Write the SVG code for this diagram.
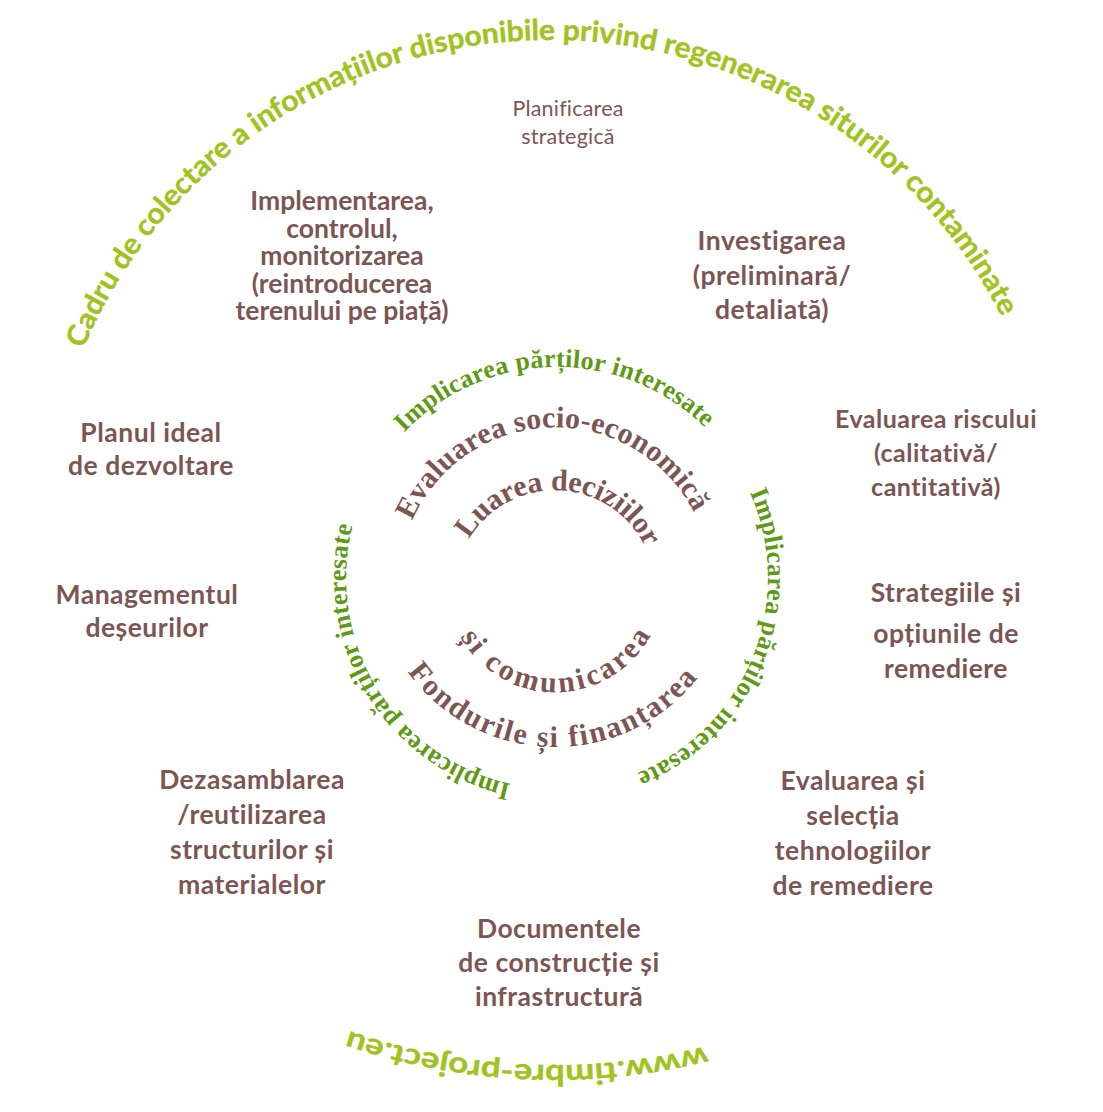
<svg xmlns="http://www.w3.org/2000/svg" xmlns:xlink="http://www.w3.org/1999/xlink" width="1103" height="1112" viewBox="0 0 1103 1112">
<style>
.lbl{font-family:Lato,"Liberation Sans",sans-serif;font-weight:700;font-size:26.5px;letter-spacing:0.5px;fill:#7d5552;text-anchor:middle}
.tight{letter-spacing:0}
.risk{font-size:25px}
.plan{font-weight:400;font-size:21.5px;letter-spacing:0.2px}
.ser{font-family:"Liberation Serif","Times New Roman",serif;font-weight:700;font-size:30px;fill:#7d5552;text-anchor:middle}
.gser{font-family:"Liberation Serif","Times New Roman",serif;font-weight:700;font-size:26px;fill:#5f9a14;text-anchor:middle}
.outer{font-family:Lato,"Liberation Sans",sans-serif;font-weight:700;font-size:29px;fill:#a0c31d;stroke:#a0c31d;stroke-width:0.4px;text-anchor:middle}
</style>
<defs>
<path id="pOuter" d="M 47.9 476.4 A 507 507 0 0 1 1045.9 441.6" fill="none"/>
<path id="pUrl" d="M 845.3 993.7 A 631 631 0 0 1 215.0 966.2" fill="none"/>
<path id="pGTop" d="M 357.6 509.0 A 211 211 0 0 1 754.1 502.7" fill="none"/>
<path id="pGRight" d="M 697.9 421.0 A 211 211 0 0 1 550.0 788.9" fill="none"/>
<path id="pGLeft" d="M 599.1 784.8 A 211 211 0 0 1 391.9 446.7" fill="none"/>
<path id="pEval" d="M 399.3 574.0 A 156 156 0 0 1 709.9 564.8" fill="none"/>
<path id="pLuarea" d="M 455.9 576.8 A 100 100 0 0 1 654.9 585.8" fill="none"/>
<path id="pComun" d="M 446.5 593.4 A 109 109 0 0 0 663.7 591.6" fill="none"/>
<path id="pFond" d="M 375.1 592.7 A 182 182 0 0 0 733.5 600.5" fill="none"/>
</defs>
<rect width="1103" height="1112" fill="#ffffff"/>

<g id="outer-ring">
<text class="outer"><textPath href="#pOuter" xlink:href="#pOuter" startOffset="50%" textLength="1150" lengthAdjust="spacingAndGlyphs">Cadru de colectare a informațiilor disponibile privind regenerarea siturilor contaminate</textPath></text>
<text class="outer"><textPath href="#pUrl" xlink:href="#pUrl" startOffset="50%" textLength="362" lengthAdjust="spacingAndGlyphs">www.timbre-project.eu</textPath></text>
</g>

<g id="stakeholder-ring">
<text class="gser"><textPath href="#pGTop" xlink:href="#pGTop" startOffset="50%" textLength="335" lengthAdjust="spacing">Implicarea părților interesate</textPath></text>
<text class="gser"><textPath href="#pGRight" xlink:href="#pGRight" startOffset="50%" textLength="338" lengthAdjust="spacing">Implicarea părților interesate</textPath></text>
<text class="gser"><textPath href="#pGLeft" xlink:href="#pGLeft" startOffset="50%" textLength="338" lengthAdjust="spacing">Implicarea părților interesate</textPath></text>
</g>

<g id="core">
<text class="ser"><textPath href="#pEval" xlink:href="#pEval" startOffset="50%" textLength="352" lengthAdjust="spacing">Evaluarea socio-economică</textPath></text>
<text class="ser"><textPath href="#pLuarea" xlink:href="#pLuarea" startOffset="50%" textLength="216" lengthAdjust="spacing">Luarea deciziilor</textPath></text>
<text class="ser"><textPath href="#pComun" xlink:href="#pComun" startOffset="50%" textLength="232" lengthAdjust="spacing">și comunicarea</textPath></text>
<text class="ser"><textPath href="#pFond" xlink:href="#pFond" startOffset="50%" textLength="336" lengthAdjust="spacing">Fondurile și finanțarea</textPath></text>
</g>

<g id="connectors"/>

<g id="n-planificarea">
<text class="lbl plan" x="568" y="116">Planificarea</text>
<text class="lbl plan" x="568" y="144">strategică</text>
</g>
<g id="n-implementarea">
<text class="lbl tight" x="342" y="210">Implementarea,</text>
<text class="lbl tight" x="342" y="237.5">controlul,</text>
<text class="lbl tight" x="342" y="265">monitorizarea</text>
<text class="lbl tight" x="342" y="292.5">(reintroducerea</text>
<text class="lbl tight" x="342" y="320">terenului pe piață)</text>
</g>
<g id="n-investigarea">
<text class="lbl" x="772" y="250">Investigarea</text>
<text class="lbl" x="772" y="285">(preliminară/</text>
<text class="lbl" x="772" y="319">detaliată)</text>
</g>
<g id="n-evaluarea-riscului">
<text class="lbl risk" x="936" y="428">Evaluarea riscului</text>
<text class="lbl risk" x="936" y="462">(calitativă/</text>
<text class="lbl risk" x="936" y="496">cantitativă)</text>
</g>
<g id="n-planul">
<text class="lbl" x="151" y="442">Planul ideal</text>
<text class="lbl" x="151" y="475">de dezvoltare</text>
</g>
<g id="n-managementul">
<text class="lbl" x="147" y="604">Managementul</text>
<text class="lbl" x="147" y="637">deșeurilor</text>
</g>
<g id="n-strategiile">
<text class="lbl" x="946" y="602">Strategiile și</text>
<text class="lbl" x="946" y="643">opțiunile de</text>
<text class="lbl" x="946" y="678">remediere</text>
</g>
<g id="n-dezasamblarea">
<text class="lbl" x="252" y="789">Dezasamblarea</text>
<text class="lbl" x="252" y="824">/reutilizarea</text>
<text class="lbl" x="252" y="859">structurilor și</text>
<text class="lbl" x="252" y="894">materialelor</text>
</g>
<g id="n-evaluarea-selectia">
<text class="lbl" x="853" y="790">Evaluarea și</text>
<text class="lbl" x="853" y="825">selecția</text>
<text class="lbl" x="853" y="860">tehnologiilor</text>
<text class="lbl" x="853" y="895">de remediere</text>
</g>
<g id="n-documentele">
<text class="lbl" x="559" y="938">Documentele</text>
<text class="lbl" x="559" y="972">de construcție și</text>
<text class="lbl" x="559" y="1006">infrastructură</text>
</g>
</svg>
